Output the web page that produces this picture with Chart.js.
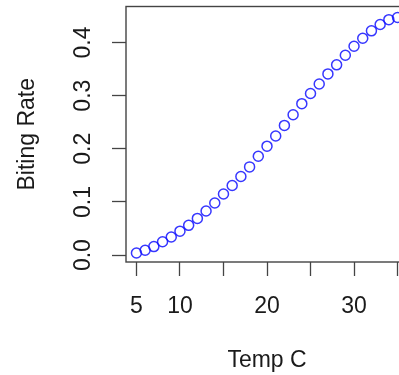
<!DOCTYPE html>
<html>
<head>
<meta charset="utf-8">
<script src="https://cdn.jsdelivr.net/npm/chart.js@4"></script>
<style>
  html, body { margin: 0; padding: 0; overflow: hidden; background: #fff; }
  #wrap { width: 420px; height: 375px; }
</style>
</head>
<body>
<div id="wrap"><canvas id="chart" width="420" height="375"></canvas></div>
<script>
// data
const temps = [5, 6, 7, 8, 9, 10, 11, 12, 13, 14, 15, 16, 17, 18, 19, 20,
               21, 22, 23, 24, 25, 26, 27, 28, 29, 30, 31, 32, 33, 34, 35];
const bitingRate = [0.004, 0.009, 0.016, 0.025, 0.034, 0.045, 0.056, 0.069, 0.083, 0.098,
                    0.115, 0.131, 0.148, 0.166, 0.186, 0.205, 0.224, 0.244, 0.264, 0.285,
                    0.304, 0.322, 0.341, 0.358, 0.376, 0.393, 0.408, 0.422, 0.434, 0.443, 0.447];
const xTicks = [5, 10, 15, 20, 25, 30, 35];
const xTickLabels = ['5', '10', '', '20', '', '30', ''];
const yTicks = [0, 0.1, 0.2, 0.3, 0.4];
const yTickLabels = ['0.0', '0.1', '0.2', '0.3', '0.4'];

Chart.defaults.font.family = '"Liberation Sans", Arial, Helvetica, sans-serif';
Chart.defaults.font.size = 23;
Chart.defaults.color = '#1a1a1a';

// R style box around the plot region
const boxPlugin = {
    id: 'box',
    afterDraw(chart) {
        const a = chart.chartArea;
        const ctx = chart.ctx;
        ctx.save();
        ctx.strokeStyle = '#444';
        ctx.lineWidth = 1.4;
        ctx.strokeRect(a.left, a.top, a.right - a.left, a.bottom - a.top);
        ctx.restore();
    }
};

const ctx = document.getElementById('chart').getContext('2d');
new Chart(ctx, {
    type: 'scatter',
    data: {
        datasets: [{
            label: 'Biting Rate',
            data: temps.map((t, i) => ({ x: t, y: bitingRate[i] })),
            pointStyle: 'circle',
            pointRadius: 5,
            pointHoverRadius: 5,
            pointBorderWidth: 1.5,
            pointBorderColor: 'rgba(20, 20, 255, 0.85)',
            pointBackgroundColor: 'rgba(0, 0, 0, 0)',
            showLine: false
        }]
    },
    options: {
        responsive: false,
        animation: false,
        devicePixelRatio: 1,
        layout: { padding: { top: 6, right: 12, bottom: 0, left: 0 } },
        plugins: {
            legend: { display: false },
            tooltip: { enabled: false }
        },
        scales: {
            x: {
                type: 'linear',
                min: 3.8,
                max: 36.2,
                afterBuildTicks: s => { s.ticks = xTicks.map(v => ({ value: v })); },
                afterFit: s => { s.height = 113; s.paddingLeft = 0; s.paddingRight = 0; },
                ticks: {
                    autoSkip: false,
                    maxRotation: 0,
                    minRotation: 0,
                    padding: 17,
                    callback: (v, i) => xTickLabels[i]
                },
                grid: {
                    drawOnChartArea: false,
                    drawTicks: true,
                    tickLength: 14,
                    tickColor: '#444',
                    tickWidth: 1.3
                },
                border: { display: false },
                title: {
                    display: true,
                    text: 'Temp C',
                    padding: { top: 0, bottom: 1 }
                }
            },
            y: {
                type: 'linear',
                min: -0.013,
                max: 0.4678,
                afterBuildTicks: s => { s.ticks = yTicks.map(v => ({ value: v })); },
                afterFit: s => { s.width = 126; s.paddingTop = 0; s.paddingBottom = 0; },
                ticks: {
                    autoSkip: false,
                    minRotation: 90,
                    maxRotation: 90,
                    crossAlign: 'center',
                    padding: 12,
                    callback: (v, i) => yTickLabels[i]
                },
                grid: {
                    drawOnChartArea: false,
                    drawTicks: true,
                    tickLength: 14,
                    tickColor: '#444',
                    tickWidth: 1.3
                },
                border: { display: false },
                title: {
                    display: true,
                    text: 'Biting Rate',
                    padding: { top: 14, bottom: 0 }
                }
            }
        }
    },
    plugins: [boxPlugin]
});
</script>
</body>
</html>
